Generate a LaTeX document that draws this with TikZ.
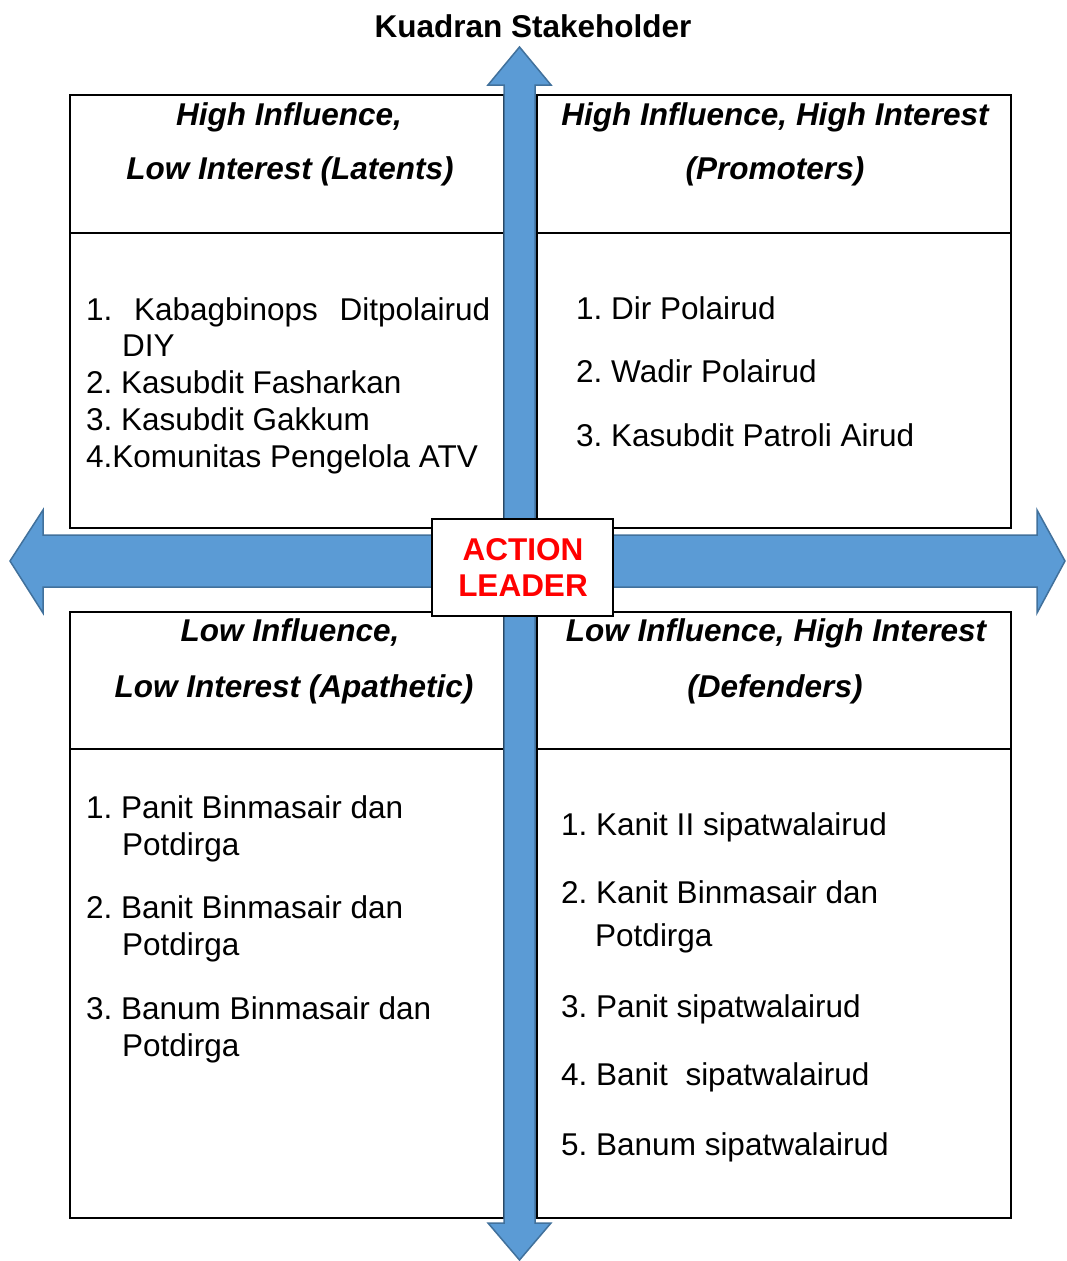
\documentclass[tikz,border=0pt]{standalone}
\usepackage{fontspec}
\setmainfont{Liberation Sans}
\definecolor{arrowfill}{HTML}{5B9BD5}
\definecolor{arrowline}{HTML}{41719C}
\definecolor{leaderred}{HTML}{FF0000}
\frenchspacing
\begin{document}
\frenchspacing
\begin{tikzpicture}[x=1pt,y=-1pt,
  quad/.style={draw=black,line width=1.8pt},
  bigarrow/.style={fill=arrowfill,draw=arrowline,line width=1.5pt,line join=miter},
  txt/.style={anchor=base west,inner sep=0pt,font=\fontsize{31.5}{37}\selectfont},
  head/.style={anchor=base,inner sep=0pt,font=\fontsize{31.5}{37}\selectfont\bfseries\itshape},
  titletxt/.style={anchor=base,inner sep=0pt,font=\fontsize{31.5}{37}\selectfont\bfseries},
  leader/.style={anchor=base,inner sep=0pt,text=leaderred,font=\fontsize{31.5}{37}\selectfont\bfseries}]
\useasboundingbox (0,0) rectangle (1066,1261);
\fill[white] (0,0) rectangle (1066,1261);

% quadrant boxes
\draw[quad] (70,95) rectangle (504,528);
\draw[quad] (70,233) -- (504,233);
\draw[quad] (537,95) rectangle (1011,528);
\draw[quad] (537,233) -- (1011,233);
\draw[quad] (70,612) rectangle (504,1218);
\draw[quad] (70,749) -- (504,749);
\draw[quad] (537,612) rectangle (1011,1218);
\draw[quad] (537,749) -- (1011,749);

% arrows
\draw[bigarrow] (504,85) -- (488,85) -- (519.5,47) -- (551,85) -- (535,85)
  -- (535,1223) -- (551,1223) -- (519.5,1260) -- (488,1223) -- (504,1223) -- cycle;
\draw[bigarrow] (43,535) -- (43,510) -- (10,561) -- (43,613) -- (43,587)
  -- (1037,587) -- (1037,613) -- (1065,561) -- (1037,510) -- (1037,535) -- cycle;

% centre box
\node[draw=black,line width=1.8pt,fill=white,minimum width=181pt,minimum height=97pt,inner sep=0pt] (centre) at (522.5,567.5) {};
\node[leader] (action) at (523,560) {ACTION};
\node[leader] (leaderw) at (523,596) {LEADER};

% title
\node[titletxt] (title) at (533,37) {Kuadran Stakeholder};

% headers
\node[head] (h1a) at (289,125) {High Influence,};
\node[head] (h1b) at (290,179) {Low Interest (Latents)};
\node[head] (h2a) at (775,125) {High Influence, High Interest};
\node[head] (h2b) at (775,179) {(Promoters)};
\node[head] (h3a) at (290,641) {Low Influence,};
\node[head] (h3b) at (294,697) {Low Interest (Apathetic)};
\node[head] (h4a) at (776,641) {Low Influence, High Interest};
\node[head] (h4b) at (775,697) {(Defenders)};

% top-left body
\node[txt] (a1) at (86,320) {\makebox[404pt][l]{1.\hfill Kabagbinops\hfill Ditpolairud}};
\node[txt] (a1b) at (122,356) {DIY};
\node[txt] (a2) at (86,393) {2. Kasubdit Fasharkan};
\node[txt] (a3) at (86,430) {3. Kasubdit Gakkum};
\node[txt] (a4) at (86,467) {4.Komunitas Pengelola ATV};

% top-right body
\node[txt] (b1) at (576,319) {1. Dir Polairud};
\node[txt] (b2) at (576,382) {2. Wadir Polairud};
\node[txt] (b3) at (576,446) {3. Kasubdit Patroli Airud};

% bottom-left body
\node[txt] (c1) at (86,818) {1. Panit Binmasair dan};
\node[txt] (c1b) at (122,855) {Potdirga};
\node[txt] (c2) at (86,918) {2. Banit Binmasair dan};
\node[txt] (c2b) at (122,955) {Potdirga};
\node[txt] (c3) at (86,1019) {3. Banum Binmasair dan};
\node[txt] (c3b) at (122,1056) {Potdirga};

% bottom-right body
\node[txt] (d1) at (561,835) {1. Kanit II sipatwalairud};
\node[txt] (d2) at (561,903) {2. Kanit Binmasair dan};
\node[txt] (d2b) at (595,946) {Potdirga};
\node[txt] (d3) at (561,1017) {3. Panit sipatwalairud};
\node[txt] (d4) at (561,1085) {4. Banit\ \ sipatwalairud};
\node[txt] (d5) at (561,1155) {5. Banum sipatwalairud};
\end{tikzpicture}
\end{document}
